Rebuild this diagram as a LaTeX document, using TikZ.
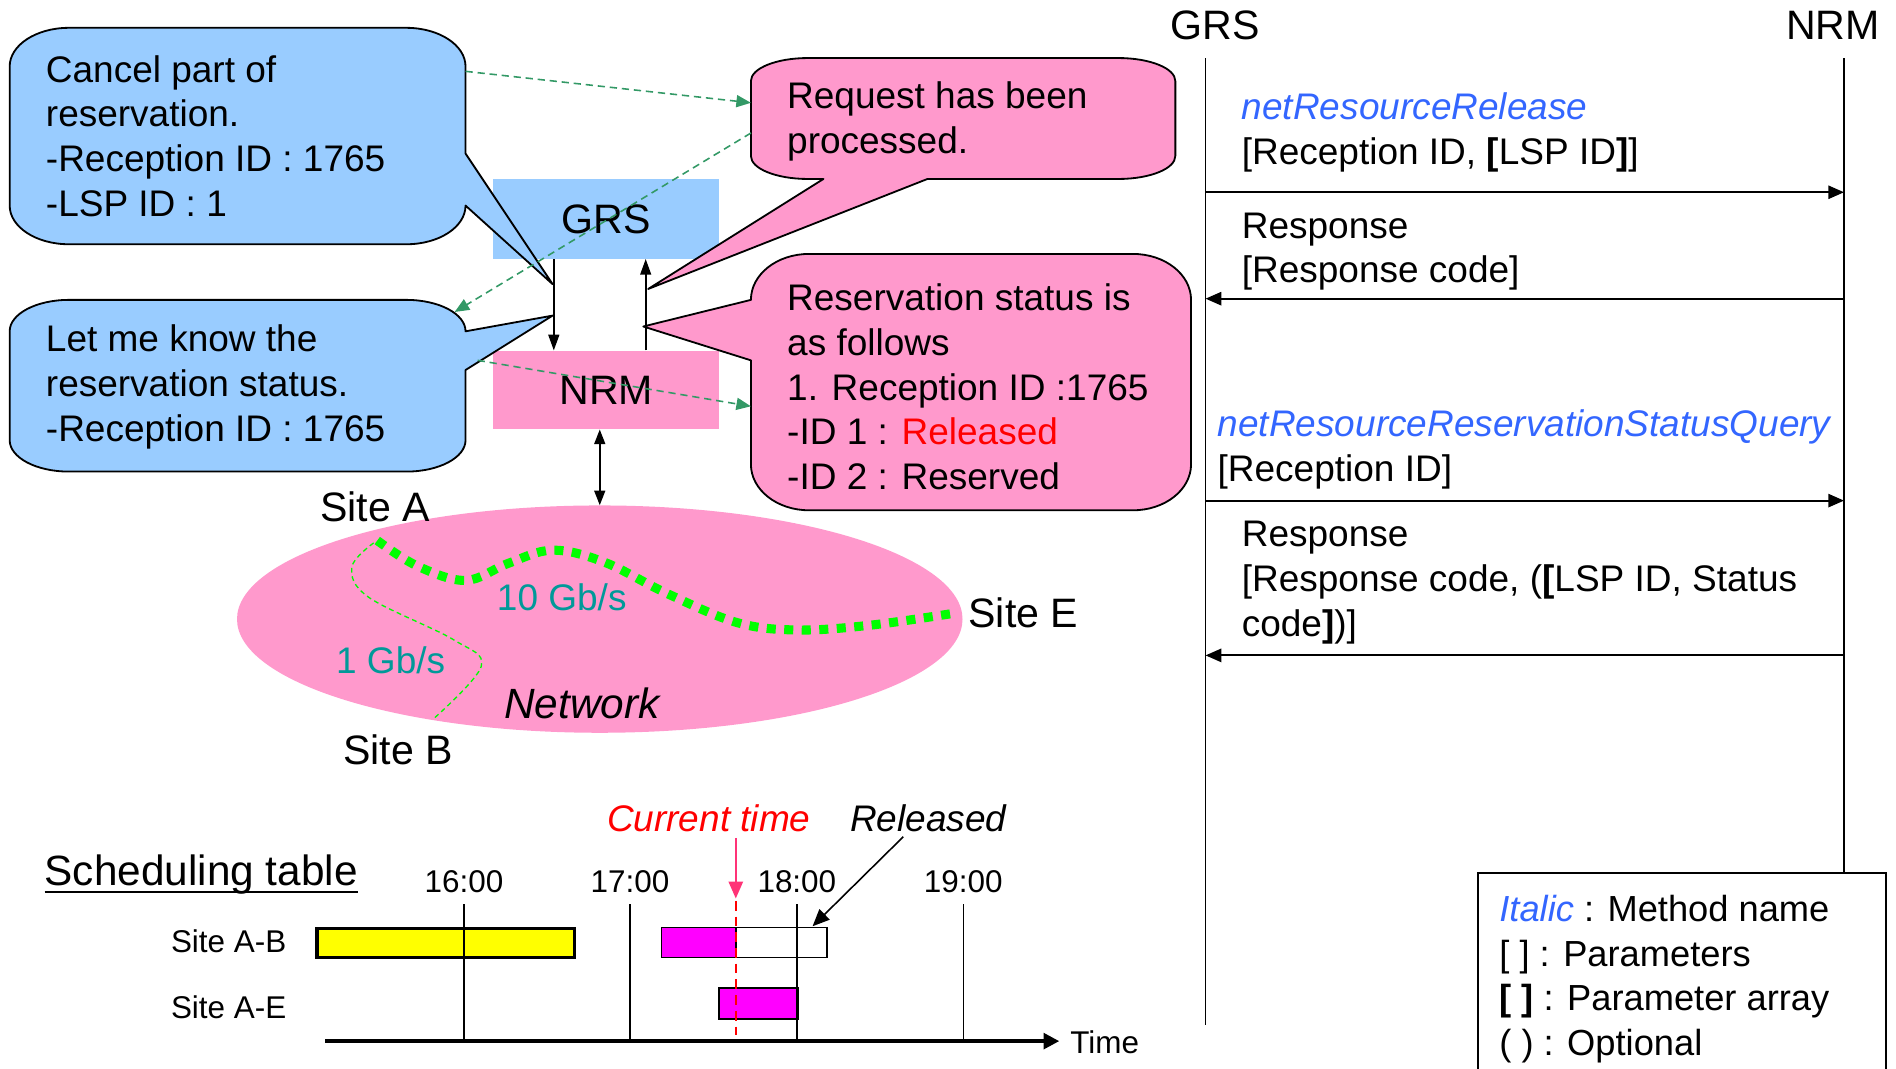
\documentclass[tikz,border=0pt]{standalone}
\usepackage{fontspec}
\setmainfont{Liberation Sans}
\usetikzlibrary{arrows.meta,shapes.geometric}
\definecolor{lblue}{HTML}{99CCFF}
\definecolor{lpink}{HTML}{FF99CC}
\definecolor{dgreen}{HTML}{339966}
\definecolor{lgreen}{HTML}{00FF00}
\definecolor{tealtxt}{HTML}{009999}
\definecolor{mblue}{HTML}{3366FF}
\definecolor{curpink}{HTML}{FF3377}
\definecolor{mag}{HTML}{FF00FF}
\definecolor{ylw}{HTML}{FFFF00}
\definecolor{rd}{HTML}{FF0000}
\newcommand\fA{\fontsize{30.6}{37}\selectfont}
\newcommand\fB{\fontsize{34}{40}\selectfont}
\newcommand\fN{\fontsize{35}{42}\selectfont}
\newcommand\fS{\fontsize{26}{31}\selectfont}
\newcommand\fL{\fontsize{30}{37}\selectfont}
\begin{document}
\begin{tikzpicture}[x=1pt,y=-1pt,
  txt/.style={inner sep=0pt,outer sep=0pt,anchor=base west,font=\fA,align=left},
  calloutline/.style={draw=black,line width=1.5pt,line join=round},
  dasharrow/.style={dgreen,line width=1.3pt,dash pattern=on 6pt off 4pt,-{Triangle[length=12pt,width=10pt]}},
  blk/.style={line width=1.4pt,-{Triangle[length=13pt,width=9pt]}},
  msg/.style={line width=1.5pt,-{Triangle[length=13pt,width=11pt]}},
  grid/.style={line width=1.2pt},
  box/.style={inner sep=0pt,minimum width=187pt,font=\fB}]
\useasboundingbox (0,0) rectangle (1568,884);

% ---------- network ----------
\node[ellipse,fill=lpink,minimum width=600pt,minimum height=188pt,inner sep=0pt] (net) at (496,512) {};
\coordinate (sA) at (312,447);
\coordinate (sE) at (790,507);
\coordinate (sB) at (359,594);
\draw[lgreen,line width=7.5pt,dash pattern=on 7.5pt off 7pt] plot[smooth,tension=0.6] coordinates
  {(sA) (345,468) (385,480) (420,466) (457,455) (500,465) (552,491) (610,515) (660,521) (720,517) (sE)};
\draw[lgreen,line width=1.1pt,dash pattern=on 4pt off 3pt] plot[smooth,tension=0.6] coordinates
  {(309,449) (291,469) (305,494) (375,529) (398,551) (sB)};
\node[txt,font=\fB] (siteA) at (265,431) {Site A};
\node[txt,font=\fB] (siteB) at (284,632) {Site B};
\node[txt,font=\fB] (siteE) at (801,519) {Site E};
\node[txt,text=tealtxt] (l10) at (411,505) {10 Gb/s};
\node[txt,text=tealtxt] (l1) at (278,557) {1 Gb/s};
\node[txt,font=\fN\itshape] (netlbl) at (417,594) {Network};

% ---------- GRS / NRM boxes ----------
\node[box,fill=lblue,minimum height=66pt] (grs) at (501.5,181) {GRS};
\node[box,fill=lpink,minimum height=65pt] (nrm) at (501.5,322.5) {NRM};
\coordinate (dnx) at (458,0);
\coordinate (upx) at (534,0);
\draw[blk] (dnx |- grs.south) -- (dnx |- nrm.north);
\draw[blk] (upx |- nrm.north) -- (upx |- grs.south);
\draw[line width=1.4pt,{Triangle[length=12pt,width=9pt]}-{Triangle[length=12pt,width=9pt]}] (net.north |- nrm.south) -- (net.north);

% ---------- callouts ----------
\draw[calloutline,fill=lblue] (8,55) .. controls (8,37.3) and (29.9,23) .. (57,23)
  -- (336,23) .. controls (363.1,23) and (385,37.3) .. (385,55)
  -- (385,127) -- (457,235) -- (385,170)
  .. controls (385,187.7) and (363.1,202) .. (336,202)
  -- (57,202) .. controls (29.9,202) and (8,187.7) .. (8,170) -- cycle;
\node[txt] (c1) at (38,179) {Cancel part of\\reservation.\\-Reception ID : 1765\\-LSP ID : 1};

\draw[calloutline,fill=lblue] (8,274) .. controls (8,259.6) and (29.9,248) .. (57,248)
  -- (336,248) .. controls (363.1,248) and (385,259.6) .. (385,274)
  -- (457,261) -- (385,306)
  -- (385,364) .. controls (385,378.4) and (363.1,390) .. (336,390)
  -- (57,390) .. controls (29.9,390) and (8,378.4) .. (8,364) -- cycle;
\node[txt] (c2) at (38,365) {Let me know the\\reservation status.\\-Reception ID : 1765};

\draw[calloutline,fill=lpink] (621,67) .. controls (621,56.5) and (642,48) .. (668,48)
  -- (925,48) .. controls (951,48) and (972,56.5) .. (972,67)
  -- (972,129) .. controls (972,139.5) and (951,148) .. (925,148)
  -- (767,148) -- (536,239) -- (681,148)
  -- (668,148) .. controls (642,148) and (621,139.5) .. (621,129) -- cycle;
\node[txt] (c3) at (651,127) {Request has been\\processed.};

\draw[calloutline,fill=lpink] (621,248) .. controls (621,227) and (642.5,210) .. (669,210)
  -- (937,210) .. controls (963.5,210) and (985,227) .. (985,248)
  -- (985,384) .. controls (985,405) and (963.5,422) .. (937,422)
  -- (669,422) .. controls (642.5,422) and (621,405) .. (621,384)
  -- (621,298) -- (532,270) -- cycle;
\node[txt] (c4) at (651,405) {Reservation status is\\as follows\\1. Reception ID :1765\\-ID 1 : \textcolor{rd}{Released}\\-ID 2 : Reserved};

% ---------- dashed green arrows ----------
\coordinate (g1s) at (385,59);  \coordinate (g1e) at (621,85);
\coordinate (g2s) at (621,110); \coordinate (g2e) at (376,258);
\coordinate (g3s) at (395,298); \coordinate (g3e) at (621,336);
\draw[dasharrow] (g1s) -- (g1e);
\draw[dasharrow] (g2s) -- (g2e);
\draw[dasharrow] (g3s) -- (g3e);

% ---------- scheduling table ----------
\node[txt,font=\fN] (sched) at (37,732) {Scheduling table};
\draw[line width=1.8pt] ([yshift=-6pt]sched.base west) -- ([yshift=-6pt]sched.base east);
\foreach \x/\t/\n in {383.7/16:00/a,521/17:00/b,659/18:00/c,796.6/19:00/d}{
  \node[inner sep=0pt,anchor=base,font=\fS] (t\n) at (\x,738.5) {\t};
}
\node[inner sep=0pt,anchor=base east,font=\fS] (rowAB) at (237,788) {Site A-B};
\node[inner sep=0pt,anchor=base east,font=\fS] (rowAE) at (237,842) {Site A-E};
\draw[fill=ylw,line width=2.8pt] (262,768) rectangle (475,792);
\draw[fill=mag,line width=1.3pt] (547,767) rectangle (608.5,792);
\draw[fill=white,line width=1.3pt] (608.5,767) rectangle (684,792);
\draw[fill=mag,line width=1.3pt] (594.5,817) rectangle (660.5,842.5);
\foreach \x in {383.7,521,659,796.6}{\draw[grid] (\x,748) -- (\x,861);}
\coordinate (ax0) at (269,861); \coordinate (ax1) at (876,861);
\draw[line width=3pt,-{Triangle[length=13pt,width=13pt]}] (ax0) -- (ax1);
\node[inner sep=0pt,anchor=base west,font=\fS] (timelbl) at (885,871) {Time};
\draw[rd,line width=2pt,dash pattern=on 8pt off 5pt] (608.5,745) -- (608.5,856);
\node[txt,text=rd,font=\fA\itshape] (cur) at (502,688) {Current time};
\node[txt,font=\fA\itshape] (rel) at (703,688) {Released};
\coordinate (ct0) at (608.5,693); \coordinate (ct1) at (608.5,743);
\draw[curpink,line width=1.3pt,-{Triangle[length=14pt,width=12pt]}] (ct0) -- (ct1);
\coordinate (rl0) at (747,692); \coordinate (rl1) at (672,766);
\draw[line width=1.3pt,-{Triangle[length=14pt,width=12pt]}] (rl0) -- (rl1);

% ---------- sequence ----------
\node[inner sep=0pt,anchor=base west,font=\fB] (grsH) at (968,33) {GRS};
\node[inner sep=0pt,anchor=base west,font=\fB] (nrmH) at (1477,33) {NRM};
\coordinate (gTop) at (997,48); \coordinate (gBot) at (997,848);
\coordinate (nTop) at (1525,48); \coordinate (nBot) at (1525,722);
\draw[line width=1.5pt] (gTop) -- (gBot);
\draw[line width=1.5pt] (nTop) -- (nBot);
\coordinate (g1) at (997,159); \coordinate (n1) at (1525,159);
\coordinate (g2) at (997,247); \coordinate (n2) at (1525,247);
\coordinate (g3) at (997,414); \coordinate (n3) at (1525,414);
\coordinate (g4) at (997,542); \coordinate (n4) at (1525,542);
\draw[msg] (g1) -- (n1);
\draw[msg] (n2) -- (g2);
\draw[msg] (g3) -- (n3);
\draw[msg] (n4) -- (g4);
\node[txt] (m1) at (1027,136) {\textcolor{mblue}{\itshape netResourceRelease}\\{[}Reception ID, {\bfseries[}LSP ID{\bfseries]}]};
\node[txt] (m2) at (1027,234) {Response\\{[}Response code]};
\node[txt] (m3) at (1007,398) {\textcolor{mblue}{\itshape netResourceReservationStatusQuery}\\{[}Reception ID]};
\node[txt] (m4) at (1027,526) {Response\\{[}Response code, ({\bfseries[}LSP ID, Status\\code{\bfseries]})]};

% ---------- legend ----------
\fill[white] (1222,722) rectangle (1560,884);
\draw[line width=1.5pt] (1222,884) -- (1222,722) -- (1560,722) -- (1560,884);
\node[txt,font=\fL] (leg) at (1240,873) {\textcolor{mblue}{\itshape Italic} : Method name\\{[ ]} : Parameters\\{\bfseries[ ]} : Parameter array\\( ) : Optional};
\end{tikzpicture}
\end{document}
